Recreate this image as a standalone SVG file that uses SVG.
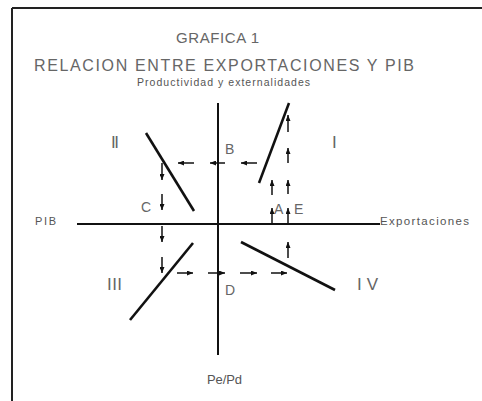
<svg xmlns="http://www.w3.org/2000/svg" width="482" height="401" viewBox="0 0 482 401">
<defs>
<marker id="ah" markerUnits="userSpaceOnUse" markerWidth="6" markerHeight="5" refX="6" refY="2.5" orient="auto">
<path d="M0,0 L6,2.5 L0,5 z" fill="#111"/>
</marker>
<style>
.t{font-family:"Liberation Sans",Arial,sans-serif;fill:#555}
.l{fill:#666}
.ax{stroke:#111;stroke-width:2;fill:none}
.cv{stroke:#111;stroke-width:2.6;fill:none}
.ar{stroke:#111;stroke-width:1.5;marker-end:url(#ah)}
</style>
</defs>
<rect width="482" height="401" fill="#fff"/>
<g id="frame">
<line x1="12" y1="8" x2="482" y2="8" stroke="#222" stroke-width="2"/>
<line x1="12" y1="8" x2="12" y2="401" stroke="#222" stroke-width="2"/>
</g>
<g id="titles">
<text class="t l" x="176" y="43" font-size="15" textLength="83">GRAFICA 1</text>
<text class="t l" x="34" y="71" font-size="16" textLength="380">RELACION ENTRE EXPORTACIONES Y PIB</text>
<text class="t" x="137" y="86" font-size="10.5" textLength="173" fill="#444">Productividad y externalidades</text>
</g>
<g id="axes">
<line class="ax" x1="77" y1="224" x2="380" y2="224"/>
<line class="ax" x1="218" y1="103" x2="218" y2="355"/>
<text class="t" x="35" y="225" font-size="11" textLength="21">PIB</text>
<text class="t" x="380" y="225" font-size="11.5" textLength="89">Exportaciones</text>
<text class="t" x="207" y="384" font-size="13" textLength="35">Pe/Pd</text>
</g>
<g id="curves">
<line class="cv" x1="289" y1="103" x2="259" y2="183"/>
<line class="cv" x1="146" y1="133" x2="194" y2="211"/>
<line class="cv" x1="193" y1="243" x2="130" y2="320"/>
<line class="cv" x1="241" y1="242" x2="335" y2="290"/>
</g>
<g id="quadrants" font-size="17">
<text class="t l" x="111" y="148" textLength="8">II</text>
<text class="t l" x="332" y="148">I</text>
<text class="t l" x="107" y="290" textLength="15">III</text>
<text class="t l" x="357" y="290" textLength="21">IV</text>
</g>
<g id="points" font-size="14">
<text class="t l" x="225" y="154">B</text>
<text class="t l" x="141" y="212">C</text>
<text class="t l" x="274" y="214">A</text>
<text class="t l" x="294" y="214">E</text>
<text class="t l" x="225" y="295">D</text>
</g>
<g id="connectors">
<line class="ar" x1="272" y1="224" x2="272" y2="208"/>
<line class="ar" x1="272" y1="195" x2="272" y2="180"/>
<line class="ar" x1="257" y1="163" x2="241" y2="163"/>
<line class="ar" x1="225" y1="163" x2="210" y2="163"/>
<line class="ar" x1="194" y1="163" x2="178" y2="163"/>
<line class="ar" x1="162" y1="163" x2="162" y2="180"/>
<line class="ar" x1="162" y1="194" x2="162" y2="210"/>
<line class="ar" x1="162" y1="226" x2="162" y2="242"/>
<line class="ar" x1="162" y1="257" x2="162" y2="273"/>
<line class="ar" x1="177" y1="273" x2="193" y2="273"/>
<line class="ar" x1="208" y1="273" x2="225" y2="273"/>
<line class="ar" x1="240" y1="273" x2="257" y2="273"/>
<line class="ar" x1="271" y1="273" x2="287" y2="273"/>
<line class="ar" x1="288" y1="258" x2="288" y2="242"/>
<line class="ar" x1="288" y1="224" x2="288" y2="208"/>
<line class="ar" x1="288" y1="194" x2="288" y2="180"/>
<line class="ar" x1="288" y1="163" x2="288" y2="148"/>
<line class="ar" x1="288" y1="132" x2="288" y2="115"/>
</g>
</svg>
